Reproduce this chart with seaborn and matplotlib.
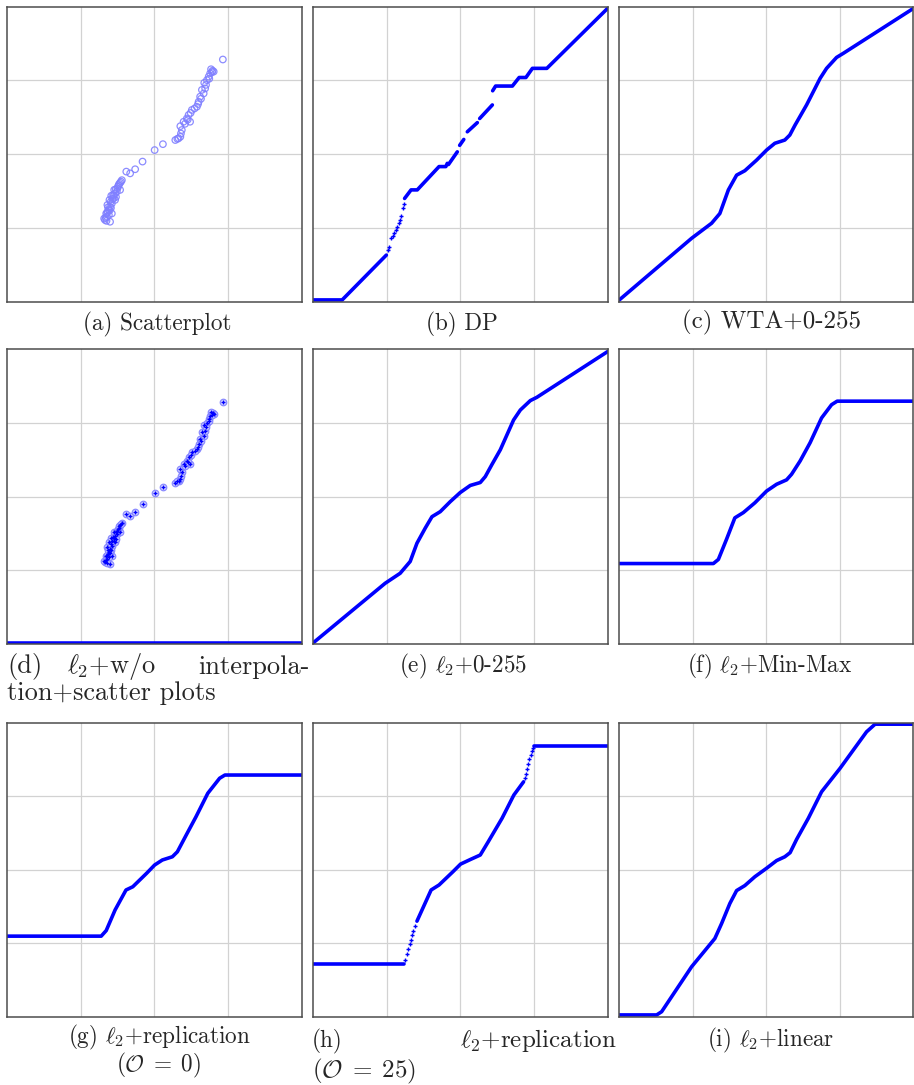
import numpy as np
import pandas as pd
import matplotlib
matplotlib.use('Agg')
import matplotlib.pyplot as plt
import seaborn as sns

BLUE = '#0000ff'
LIGHT = '#8080ff'

# sample points (percent of 0-255 range)
scatter_x = [33.3, 33.9, 33.7, 34.5, 35.0, 34.1, 35.6, 34.8, 36.2, 36.0, 36.7, 37.3,
             36.4, 37.5, 37.9, 38.4, 39.0, 35.6, 33.0, 35.0, 36.7, 38.4, 34.2, 35.3,
             33.5, 34.0, 34.6, 34.3, 35.2, 35.8, 35.4, 36.3, 36.9, 37.0, 37.7, 38.1,
             38.7, 33.8, 34.9,
             40.5, 41.8, 43.5, 46.0, 50.1, 52.9,
             57.1, 58.2, 58.8, 59.3, 58.8, 59.9, 61.0, 62.1, 61.6, 62.7, 64.4, 65.0,
             65.5, 66.7, 66.1, 67.2, 66.9, 67.8, 68.4, 68.9, 69.7, 69.2, 70.1,
             57.8, 59.0, 60.4, 61.3, 62.3, 63.6, 64.8, 65.8, 67.5, 68.6, 69.5, 73.2]
scatter_y = [27.7, 28.8, 29.9, 31.1, 32.2, 32.8, 33.3, 34.5, 35.0, 36.2, 36.7, 37.3,
             37.9, 38.4, 39.5, 40.3, 41.2, 29.9, 28.2, 27.1, 34.5, 37.9, 30.5, 31.8,
             28.5, 30.2, 29.4, 32.0, 33.8, 34.8, 35.9, 36.0, 38.1, 35.5, 39.0, 39.9,
             40.7, 27.4, 31.0,
             44.1, 43.5, 44.9, 47.5, 51.4, 53.4,
             54.8, 55.4, 55.9, 58.2, 59.5, 61.0, 62.1, 61.0, 63.3, 65.0, 66.1, 67.8,
             69.5, 70.6, 71.8, 72.3, 74.2, 75.1, 76.3, 77.4, 78.3, 78.8, 78.0,
             55.2, 57.0, 60.3, 61.7, 64.0, 65.5, 67.0, 68.8, 73.5, 75.6, 77.8, 82.1]

# (b) DP: separate pieces
dp_x = [0, 9.9, 24.9,
        31.1, 33.3, 35.4, 42.8, 45.1, 45.6,
        46.0, 49.0,
        49.8, 51.2,
        52.4, 55.8,
        56.6, 60.9,
        61.0, 62.0, 67.7, 70.0, 72.3, 74.5, 79.4, 100]
dp_y = [0.6, 0.6, 15.8,
        35.0, 37.9, 37.9, 45.8, 45.8, 46.9,
        46.5, 50.8,
        53.0, 55.0,
        57.6, 60.7,
        62.1, 66.7,
        71.5, 73.1, 73.1, 76.0, 76.0, 79.1, 79.1, 99.4]
dp_seg = [0, 0, 0, 1, 1, 1, 1, 1, 1, 2, 2, 3, 3, 4, 4, 5, 5, 6, 6, 6, 6, 6, 6, 6, 6]
dp_dot_x = [25.5, 25.9, 26.5, 27.1, 27.6, 28.1, 28.6, 29.1, 29.5, 29.9, 30.5, 30.8]
dp_dot_y = [17.5, 18.6, 21.6, 22.4, 23.2, 24.3, 25.4, 26.8, 27.8, 29.0, 31.6, 33.2]

# (c) WTA+0-255
wta_x = [0, 24.6, 31.4, 34.2, 37.1, 39.9, 42.7, 46.7, 50.1, 52.9, 56.3, 58.0, 59.8,
         63.7, 68.3, 70.5, 73.9, 76.2, 100]
wta_y = [0.6, 21.5, 26.6, 29.9, 37.9, 42.9, 44.4, 48.0, 51.4, 53.7, 54.8, 56.5, 59.9,
         66.7, 75.7, 79.1, 82.8, 84.2, 99.4]

# (e) l2+0-255
l2_x = [0.2, 24.5, 29.6, 33.0, 35.3, 38.1, 40.4, 43.2, 46.6, 50.0, 53.4, 56.8, 58.5,
        60.7, 63.6, 68.1, 70.4, 73.8, 76.0, 100]
l2_y = [0.5, 20.6, 24.0, 28.0, 34.2, 39.3, 43.2, 44.9, 48.3, 51.4, 53.8, 54.8, 56.8,
        60.8, 65.9, 76.0, 79.4, 82.6, 83.7, 99.2]

# (f) l2+Min-Max
mm_x = [0, 32.0, 33.7, 36.5, 39.3, 42.2, 46.1, 50.1, 53.5, 56.9, 58.6, 61.5, 64.9,
        68.8, 72.2, 74.1, 100]
mm_y = [27.3, 27.3, 28.7, 35.6, 42.8, 44.6, 47.9, 51.9, 54.2, 55.7, 57.6, 62.1, 68.3,
        76.7, 81.2, 82.4, 82.4]

# (g) l2+replication (O=0)
rep0_x = [0, 32.0, 33.7, 36.7, 40.4, 42.7, 47.4, 50.1, 52.7, 56.1, 57.8, 60.8, 64.1,
          68.1, 72.1, 73.9, 100]
rep0_y = [27.4, 27.4, 29.3, 36.3, 43.1, 44.2, 48.8, 51.6, 53.3, 54.4, 56.1, 61.8, 68.0,
          76.0, 81.1, 82.2, 82.2]

# (h) l2+replication (O=25)
rep25_x = [0, 31.0,
           35.3, 40.1, 42.8, 47.5, 50.1, 53.5, 56.8, 59.5, 64.2, 68.2, 71.5,
           74.9, 100]
rep25_y = [17.8, 17.8,
           32.5, 43.1, 44.8, 49.3, 51.9, 53.5, 55.0, 59.5, 67.5, 75.4, 79.9,
           92.1, 92.1]
rep25_seg = [0, 0, 1, 1, 1, 1, 1, 1, 1, 1, 1, 1, 1, 2, 2]
rep25_dot_x = [31.4, 31.9, 32.4, 32.9, 33.3, 33.7, 34.1, 34.6,
               71.9, 72.3, 72.7, 73.1, 73.5, 73.9, 74.3, 74.6]
rep25_dot_y = [19.3, 21.2, 23.0, 24.7, 26.2, 27.7, 29.2, 30.9,
               81.1, 82.7, 84.3, 85.9, 87.5, 89.0, 90.4, 91.5]

# (i) l2+linear
lin_x = [0, 12.7, 14.4, 24.6, 32.5, 34.8, 37.6, 39.9, 42.7, 46.1, 50.1, 53.5, 56.3,
         58.1, 60.3, 64.3, 68.8, 75.1, 84.1, 87.0, 100]
lin_y = [0.6, 0.6, 1.7, 17.0, 26.6, 31.7, 38.5, 42.9, 44.6, 47.6, 50.5, 53.1, 54.4,
         55.8, 60.3, 67.5, 76.5, 84.5, 96.9, 99.5, 99.5]

# (d) without interpolation: zero everywhere except at the samples
base_x = [0, 100]
base_y = [0, 0]

W, H = 914, 1085
cols = [(6.7, 302.0), (313.0, 607.5), (619.3, 913.3)]
rows = [(6.7, 301.7), (349.3, 644.0), (722.7, 1016.7)]

sns.set_style('whitegrid')
plt.rcParams['font.family'] = ['cmr10', 'DejaVu Serif']
plt.rcParams['mathtext.fontset'] = 'cm'
plt.rcParams['axes.unicode_minus'] = False

fig = plt.figure(figsize=(W / 100, H / 100), dpi=100)


def make_ax(r, c):
    x0, x1 = cols[c]
    y0, y1 = rows[r]
    ax = fig.add_axes([x0 / W, 1 - y1 / H, (x1 - x0) / W, (y1 - y0) / H])
    ax.set_xlim(0, 100)
    ax.set_ylim(0, 100)
    ax.set_xticks([25, 50, 75])
    ax.set_yticks([25, 50, 75])
    ax.tick_params(length=0, labelbottom=False, labelleft=False)
    ax.grid(True, color='#d2d2d2', lw=0.9)
    for s in ax.spines.values():
        s.set_color('#4d4d4d')
        s.set_linewidth(1.1)
    return ax


def curve(ax, xs, ys, seg=None, lw=2.6):
    if seg is None:
        seg = [0] * len(xs)
    df = pd.DataFrame({'x': xs, 'y': ys, 'seg': seg})
    sns.lineplot(data=df, x='x', y='y', units='seg', estimator=None, sort=False,
                 color=BLUE, lw=lw, ax=ax, legend=False)
    ax.set(xlabel='', ylabel='')


def dots(ax, xs, ys, s=9):
    sns.scatterplot(x=xs, y=ys, marker='+', s=s, color=BLUE, edgecolor=BLUE,
                    linewidth=1.0, ax=ax, legend=False)


def samples(ax, fill=False):
    sns.scatterplot(x=scatter_x, y=scatter_y, marker='o', s=22, color=LIGHT,
                    facecolor='#e0e0ff' if fill else 'none', edgecolor=LIGHT,
                    linewidth=0.9, alpha=0.9, ax=ax, legend=False)


# (a)
ax = make_ax(0, 0)
samples(ax)

# (b)
ax = make_ax(0, 1)
curve(ax, dp_x, dp_y, dp_seg)
dots(ax, dp_dot_x, dp_dot_y)

# (c)
ax = make_ax(0, 2)
curve(ax, wta_x, wta_y)

# (d)
ax = make_ax(1, 0)
samples(ax, fill=True)
curve(ax, base_x, base_y, lw=4)
sns.scatterplot(x=scatter_x, y=[0.6] * len(scatter_x), marker='|', s=10, color='white',
                edgecolor='white', linewidth=0.7, ax=ax, legend=False)
dots(ax, scatter_x, scatter_y, s=12)

# (e)
ax = make_ax(1, 1)
curve(ax, l2_x, l2_y)

# (f)
ax = make_ax(1, 2)
curve(ax, mm_x, mm_y)

# (g)
ax = make_ax(2, 0)
curve(ax, rep0_x, rep0_y)

# (h)
ax = make_ax(2, 1)
curve(ax, rep25_x, rep25_y, rep25_seg)
dots(ax, rep25_dot_x, rep25_dot_y)

# (i)
ax = make_ax(2, 2)
curve(ax, lin_x, lin_y)

# captions
FS, FB, FD = 16.7, 18, 19


def cap(x, y, s, size=FS, ha='center'):
    fig.text(x / W, 1 - y / H, s, fontsize=size, ha=ha, va='center')


cap(157, 324, '(a) Scatterplot')
cap(462, 324, '(b) DP')
cap(771, 322, '(c) WTA+0-255', size=FB)

cap(7, 667, '(d)', size=FD, ha='left')
cap(112, 667, r'$\ell_2$+w/o', size=FD)
cap(310, 667, 'interpola-', size=FD, ha='right')
cap(7, 693, 'tion+scatter plots', size=FD, ha='left')
cap(463, 666, r'(e) $\ell_2$+0-255')
cap(770, 666, r'(f) $\ell_2$+Min-Max')

cap(159, 1037, r'(g) $\ell_2$+replication')
cap(159, 1065, r'$(\mathcal{O}\;=\;0)$')
cap(312, 1041, '(h)', ha='left')
cap(617, 1040, r'$\ell_2$+replication', size=FB, ha='right')
cap(312, 1071, r'$(\mathcal{O}\;=\;25)$', size=FB, ha='left')
cap(771, 1040, r'(i) $\ell_2$+linear')

fig.savefig('out.png', dpi=100)
